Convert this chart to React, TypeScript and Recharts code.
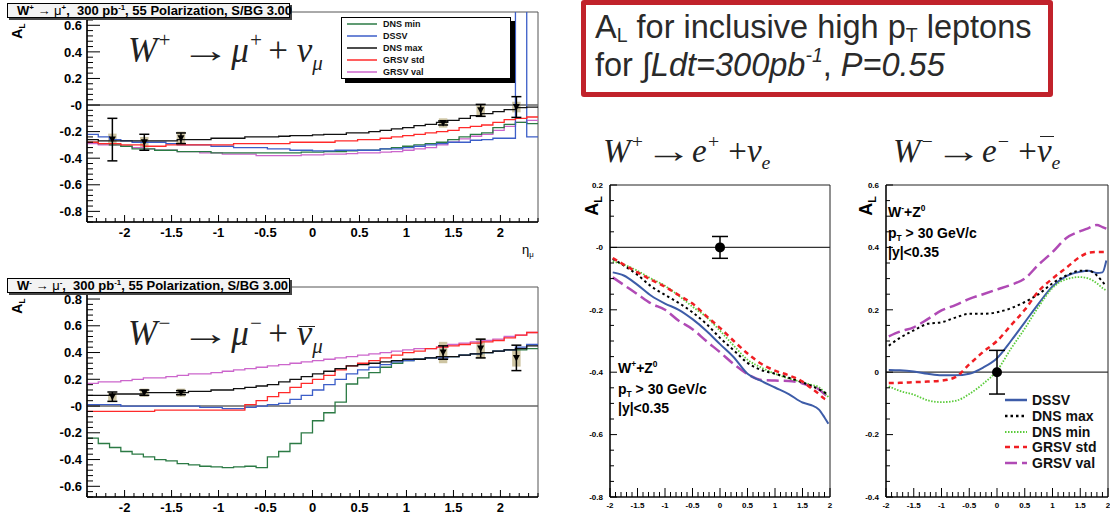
import React from 'react';
import { ComposedChart, Line, XAxis, YAxis, ReferenceLine, ReferenceArea, Scatter, ErrorBar } from 'recharts';

const SANS = '"Liberation Sans", Arial, Helvetica, sans-serif';
const SERIF = '"Liberation Serif", "Times New Roman", serif';

// ---------- muon histograms: eta bins (40 bins of 0.12) ----------
const etaEdges = [-2.4, -2.28, -2.16, -2.04, -1.92, -1.8, -1.68, -1.56, -1.44, -1.32, -1.2, -1.08, -0.96, -0.84, -0.72, -0.6, -0.48, -0.36, -0.24, -0.12, 0, 0.12, 0.24, 0.36, 0.48, 0.6, 0.72, 0.84, 0.96, 1.08, 1.2, 1.32, 1.44, 1.56, 1.68, 1.8, 1.92, 2.04, 2.16, 2.28, 2.4];

// W+ -> mu+
const wpDnsMin = [-0.28, -0.29, -0.30, -0.31, -0.33, -0.33, -0.34, -0.34, -0.35, -0.35, -0.35, -0.36, -0.36, -0.36, -0.36, -0.36, -0.36, -0.36, -0.36, -0.355, -0.355, -0.35, -0.35, -0.345, -0.34, -0.34, -0.33, -0.32, -0.31, -0.30, -0.29, -0.28, -0.26, -0.24, -0.22, -0.21, -0.17, -0.145, -0.13, -0.14];
const wpDssv = [-0.22, -0.24, -0.26, -0.27, -0.28, -0.28, -0.28, -0.29, -0.30, -0.30, -0.30, -0.31, -0.31, -0.32, -0.32, -0.32, -0.33, -0.33, -0.34, -0.34, -0.345, -0.345, -0.34, -0.34, -0.34, -0.34, -0.33, -0.33, -0.32, -0.31, -0.30, -0.29, -0.28, -0.28, -0.265, -0.26, -0.25, -0.25, 1.2, -0.24];
const wpDnsMax = [-0.26, -0.27, -0.27, -0.27, -0.27, -0.27, -0.27, -0.27, -0.26, -0.26, -0.26, -0.25, -0.25, -0.25, -0.24, -0.24, -0.24, -0.235, -0.23, -0.23, -0.225, -0.22, -0.22, -0.21, -0.21, -0.20, -0.19, -0.18, -0.17, -0.155, -0.145, -0.13, -0.115, -0.10, -0.08, -0.065, -0.05, -0.035, -0.02, -0.015];
const wpGrsvStd = [-0.28, -0.29, -0.29, -0.30, -0.30, -0.31, -0.31, -0.30, -0.30, -0.30, -0.30, -0.30, -0.30, -0.29, -0.29, -0.29, -0.29, -0.29, -0.28, -0.28, -0.28, -0.28, -0.27, -0.27, -0.26, -0.26, -0.25, -0.24, -0.23, -0.22, -0.21, -0.20, -0.19, -0.17, -0.16, -0.15, -0.13, -0.11, -0.10, -0.09];
const wpGrsvVal = [-0.29, -0.30, -0.30, -0.31, -0.32, -0.33, -0.34, -0.34, -0.35, -0.35, -0.36, -0.36, -0.37, -0.37, -0.37, -0.38, -0.38, -0.38, -0.38, -0.375, -0.375, -0.37, -0.37, -0.365, -0.36, -0.36, -0.355, -0.35, -0.34, -0.33, -0.32, -0.30, -0.28, -0.255, -0.235, -0.22, -0.19, -0.16, -0.13, -0.115];

// W- -> mu-
const wmDnsMin = [-0.24, -0.28, -0.31, -0.34, -0.36, -0.38, -0.40, -0.41, -0.43, -0.44, -0.45, -0.455, -0.46, -0.455, -0.45, -0.46, -0.38, -0.34, -0.28, -0.20, -0.11, -0.05, 0.03, 0.165, 0.21, 0.25, 0.29, 0.32, 0.34, 0.35, 0.36, 0.37, 0.37, 0.38, 0.39, 0.40, 0.41, 0.42, 0.42, 0.43];
const wmDssv = [0.01, 0.01, 0.01, 0.0, 0.0, 0.0, 0.0, 0.0, 0.0, 0.0, -0.01, -0.01, -0.02, -0.02, -0.01, 0.0, 0.01, 0.02, 0.05, 0.08, 0.12, 0.16, 0.20, 0.24, 0.27, 0.29, 0.31, 0.33, 0.34, 0.35, 0.36, 0.36, 0.37, 0.38, 0.39, 0.40, 0.41, 0.42, 0.44, 0.46];
const wmDnsMax = [0.08, 0.08, 0.09, 0.09, 0.09, 0.10, 0.10, 0.10, 0.10, 0.11, 0.11, 0.12, 0.12, 0.13, 0.14, 0.15, 0.16, 0.18, 0.20, 0.22, 0.24, 0.26, 0.28, 0.30, 0.31, 0.32, 0.33, 0.34, 0.35, 0.35, 0.36, 0.37, 0.37, 0.38, 0.39, 0.40, 0.41, 0.42, 0.43, 0.45];
const wmGrsvStd = [-0.04, -0.04, -0.04, -0.04, -0.04, -0.04, -0.03, -0.03, -0.03, -0.03, -0.03, -0.03, -0.03, -0.03, 0.01, 0.04, 0.07, 0.10, 0.14, 0.17, 0.20, 0.23, 0.27, 0.30, 0.32, 0.34, 0.36, 0.38, 0.40, 0.41, 0.43, 0.44, 0.45, 0.46, 0.47, 0.48, 0.49, 0.51, 0.53, 0.55];
const wmGrsvVal = [0.17, 0.18, 0.18, 0.19, 0.20, 0.21, 0.21, 0.22, 0.23, 0.24, 0.24, 0.25, 0.26, 0.27, 0.28, 0.29, 0.30, 0.31, 0.32, 0.33, 0.34, 0.35, 0.36, 0.37, 0.38, 0.39, 0.40, 0.41, 0.42, 0.43, 0.43, 0.44, 0.46, 0.47, 0.48, 0.49, 0.50, 0.52, 0.53, 0.55];

// projected data points (eta, A_L, stat error, sys box half height)
const muEta = [-2.13, -1.79, -1.40, 1.39, 1.79, 2.17];
const wpPtY = [-0.26, -0.28, -0.25, -0.135, -0.04, -0.015];
const wpPtErr = [0.16, 0.06, 0.04, 0.015, 0.045, 0.078];
const wpPtSys = [0.045, 0.04, 0.05, 0.035, 0.04, 0.04];
const wmPtY = [0.07, 0.10, 0.10, 0.40, 0.43, 0.36];
const wmPtErr = [0.035, 0.02, 0.015, 0.05, 0.07, 0.095];
const wmPtSys = [0.03, 0.03, 0.03, 0.08, 0.075, 0.065];

// ---------- electron curves (y) ----------
const yCurve = [-1.95, -1.75, -1.5, -1.25, -1, -0.75, -0.5, -0.25, 0, 0.25, 0.5, 0.75, 1, 1.25, 1.5, 1.65, 1.8, 1.9, 1.97];
const epDssv = [-0.08, -0.09, -0.12, -0.155, -0.18, -0.2, -0.23, -0.267, -0.31, -0.352, -0.405, -0.428, -0.449, -0.47, -0.497, -0.505, -0.52, -0.545, -0.565];
const epDnsMax = [-0.037, -0.058, -0.088, -0.125, -0.152, -0.178, -0.208, -0.245, -0.29, -0.33, -0.37, -0.393, -0.405, -0.418, -0.433, -0.443, -0.455, -0.465, -0.47];
const epDnsMin = [-0.045, -0.055, -0.075, -0.1, -0.123, -0.155, -0.19, -0.223, -0.267, -0.315, -0.36, -0.385, -0.405, -0.42, -0.432, -0.44, -0.448, -0.465, -0.48];
const epGrsvStd = [-0.034, -0.055, -0.08, -0.104, -0.126, -0.153, -0.18, -0.22, -0.258, -0.3, -0.34, -0.373, -0.395, -0.41, -0.43, -0.45, -0.47, -0.485, -0.49];
const epGrsvVal = [-0.096, -0.12, -0.15, -0.18, -0.2, -0.235, -0.262, -0.3, -0.336, -0.374, -0.406, -0.425, -0.427, -0.428, -0.436, -0.445, -0.455, -0.47, -0.48];

const emDssv = [0.007, 0.006, 0.002, -0.005, -0.01, -0.01, -0.005, 0.015, 0.045, 0.1, 0.16, 0.22, 0.275, 0.308, 0.322, 0.325, 0.318, 0.32, 0.358];
const emDnsMax = [0.085, 0.11, 0.134, 0.155, 0.16, 0.175, 0.187, 0.187, 0.192, 0.205, 0.225, 0.25, 0.285, 0.31, 0.325, 0.325, 0.31, 0.29, 0.275];
const emDnsMin = [-0.045, -0.06, -0.072, -0.09, -0.096, -0.092, -0.07, -0.037, 0.005, 0.075, 0.14, 0.21, 0.27, 0.298, 0.305, 0.3, 0.285, 0.27, 0.262];
const emGrsvStd = [-0.035, -0.034, -0.032, -0.03, -0.027, -0.016, 0.025, 0.065, 0.1, 0.15, 0.2, 0.26, 0.3, 0.335, 0.37, 0.383, 0.385, 0.385, 0.385];
const emGrsvVal = [0.115, 0.13, 0.144, 0.17, 0.198, 0.215, 0.235, 0.25, 0.265, 0.28, 0.3, 0.345, 0.385, 0.43, 0.452, 0.462, 0.472, 0.465, 0.46];

const epPoint = [{ x: 0, y: 0, err: 0.035 }];
const emPoint = [{ x: 0, y: 0, err: 0.07 }];

// ---------- ticks ----------
const etaTickMajor = [-2, -1.5, -1, -0.5, 0, 0.5, 1, 1.5, 2];
const wpTickMajor = [-0.8, -0.6, -0.4, -0.2, 0, 0.2, 0.4, 0.6];
const wmTickMajor = [-0.6, -0.4, -0.2, 0, 0.2, 0.4, 0.6, 0.8];
const rapTickMajor = [-2, -1.5, -1, -0.5, 0, 0.5, 1, 1.5, 2];
const epTickMajor = [-0.8, -0.6, -0.4, -0.2, 0, 0.2];
const emTickMajor = [-0.4, -0.2, 0, 0.2, 0.4, 0.6];

const legendNames = ['DNS min', 'DSSV', 'DNS max', 'GRSV std', 'GRSV val'];
const curveLegendNames = ['DSSV', 'DNS max', 'DNS min', 'GRSV std', 'GRSV val'];

const HC = { dnsMin: '#2b7a44', dssv: '#3c5ec8', dnsMax: '#111111', grsvStd: '#ff2a2a', grsvVal: '#cc66cc' };
const CC = { dssv: '#3d5ca8', dnsMax: '#000000', dnsMin: '#5acb3a', grsvStd: '#f01e23', grsvVal: '#b04ab5' };

function minorTicks(min: number, max: number, step: number) {
  const out: number[] = [];
  const a = Math.ceil(min / step - 1e-9);
  const b = Math.floor(max / step + 1e-9);
  for (let i = a; i <= b; i++) out.push(Math.round(i * step * 1e6) / 1e6);
  return out;
}
const isIn = (arr: number[], v: number) => arr.some((m) => Math.abs(m - v) < 1e-6);

function histData(a: number[], b: number[], c: number[], d: number[], e: number[]) {
  return etaEdges.map((x, i) => {
    const k = Math.min(i, a.length - 1);
    return { x, dnsMin: a[k], dssv: b[k], dnsMax: c[k], grsvStd: d[k], grsvVal: e[k] };
  });
}
function curveData(a: number[], b: number[], c: number[], d: number[], e: number[]) {
  return yCurve.map((x, i) => ({ x, dssv: a[i], dnsMax: b[i], dnsMin: c[i], grsvStd: d[i], grsvVal: e[i] }));
}
function pts(xs: number[], ys: number[], errs: number[], sys: number[]) {
  return xs.map((x, i) => ({ x, y: ys[i], err: errs[i], sys: sys[i] }));
}

const wpData = histData(wpDnsMin, wpDssv, wpDnsMax, wpGrsvStd, wpGrsvVal);
const wmData = histData(wmDnsMin, wmDssv, wmDnsMax, wmGrsvStd, wmGrsvVal);
const epData = curveData(epDssv, epDnsMax, epDnsMin, epGrsvStd, epGrsvVal);
const emData = curveData(emDssv, emDnsMax, emDnsMin, emGrsvStd, emGrsvVal);
const wpPts = pts(muEta, wpPtY, wpPtErr, wpPtSys);
const wmPts = pts(muEta, wmPtY, wmPtErr, wmPtSys);

const fmtY = (zeroLabel: string) => (v: number) => (Math.abs(v) < 1e-9 ? zeroLabel : String(v));
const fmtX = (v: number) => (Math.abs(v) < 1e-9 ? '0' : String(v));

function xTick(majors: number[], fmt: (v: number) => string, fs: number, majLen: number, minLen: number, dy: number) {
  return (props: any) => {
    const { x, y, payload } = props;
    const v = payload.value;
    const major = isIn(majors, v);
    return (
      <g>
        <line x1={x} x2={x} y1={y} y2={y - (major ? majLen : minLen)} stroke="#000" strokeWidth={1} />
        {major && (
          <text x={x} y={y + dy} textAnchor="middle" fontSize={fs} fontWeight="bold" fontFamily={SANS} fill="#000">
            {fmt(v)}
          </text>
        )}
      </g>
    );
  };
}
function yTick(majors: number[], fmt: (v: number) => string, fs: number, majLen: number, minLen: number, gap: number) {
  return (props: any) => {
    const { x, y, payload } = props;
    const v = payload.value;
    const major = isIn(majors, v);
    return (
      <g>
        <line x1={x} x2={x + (major ? majLen : minLen)} y1={y} y2={y} stroke="#000" strokeWidth={1} />
        {major && (
          <text x={x - gap} y={y} dy="0.36em" textAnchor="end" fontSize={fs} fontWeight="bold" fontFamily={SANS} fill="#000">
            {fmt(v)}
          </text>
        )}
      </g>
    );
  };
}

const L = 60, T = 4, R = 4, B = 30;
const P1 = { x: 87, y: 12, w: 451, h: 210 };
const P2 = { x: 87, y: 287, w: 451, h: 210 };
const P3 = { x: 610, y: 185, w: 220, h: 312 };
const P4 = { x: 886, y: 185, w: 222, h: 312 };

const triangle = (p: any) => (
  <path d={`M${p.cx - 3.5},${p.cy - 3} L${p.cx + 3.5},${p.cy - 3} L${p.cx},${p.cy + 3.5} Z`} fill="#000" />
);
const dotShape = (p: any) => <circle cx={p.cx} cy={p.cy} r={5} fill="#000" />;

function HistPanel({ rect, data, points, yDomain, yMajor }: any) {
  const xDomain = [-2.4, 2.4];
  return (
    <div style={{ position: 'absolute', left: rect.x - L, top: rect.y - T }}>
      <ComposedChart width={rect.w + L + R} height={rect.h + T + B} data={data} margin={{ top: T, right: R, bottom: 0, left: 0 }}>
        <XAxis type="number" dataKey="x" domain={xDomain} allowDataOverflow ticks={minorTicks(-2.4, 2.4, 0.1)} interval={0}
          tickSize={0} tickMargin={0} tickLine={false} axisLine={{ stroke: '#000', strokeWidth: 1.5 }} height={B}
          tick={xTick(etaTickMajor, fmtX, 13, 7, 4, 15)} />
        <YAxis type="number" domain={yDomain} allowDataOverflow ticks={minorTicks(yDomain[0], yDomain[1], 0.04)} interval={0}
          tickSize={0} tickMargin={0} tickLine={false} axisLine={{ stroke: '#000', strokeWidth: 1.5 }} width={L}
          tick={yTick(yMajor, fmtY('-0'), 13, 13, 6, 5)} />
        <ReferenceArea x1={xDomain[0]} x2={xDomain[1]} y1={yDomain[0]} y2={yDomain[1]} fill="none" stroke="#555" strokeWidth={1} ifOverflow="visible" />
        {points.map((p: any, i: number) => (
          <ReferenceArea key={i} x1={p.x - 0.045} x2={p.x + 0.045} y1={p.y - p.sys} y2={p.y + p.sys} fill="#cdc4a2" fillOpacity={1} stroke="none" />
        ))}
        <ReferenceLine y={0} stroke="#666" strokeWidth={1.5} />
        <Line type="stepAfter" dataKey="grsvVal" stroke={HC.grsvVal} strokeWidth={1.3} dot={false} isAnimationActive={false} />
        <Line type="stepAfter" dataKey="dnsMin" stroke={HC.dnsMin} strokeWidth={1.3} dot={false} isAnimationActive={false} />
        <Line type="stepAfter" dataKey="dssv" stroke={HC.dssv} strokeWidth={1.3} dot={false} isAnimationActive={false} />
        <Line type="stepAfter" dataKey="grsvStd" stroke={HC.grsvStd} strokeWidth={1.3} dot={false} isAnimationActive={false} />
        <Line type="stepAfter" dataKey="dnsMax" stroke={HC.dnsMax} strokeWidth={1.3} dot={false} isAnimationActive={false} />
        <Scatter data={points} dataKey="y" shape={triangle} isAnimationActive={false}>
          <ErrorBar dataKey="err" direction="y" width={5} stroke="#000" strokeWidth={1.5} />
        </Scatter>
      </ComposedChart>
    </div>
  );
}

function CurvePanel({ rect, data, point, yDomain, yMajor, zeroLabel }: any) {
  const xDomain = [-2, 2];
  return (
    <div style={{ position: 'absolute', left: rect.x - L, top: rect.y - T }}>
      <ComposedChart width={rect.w + L + R} height={rect.h + T + B} data={data} margin={{ top: T, right: R, bottom: 0, left: 0 }}>
        <XAxis type="number" dataKey="x" domain={xDomain} allowDataOverflow ticks={minorTicks(-2, 2, 0.1)} interval={0}
          tickSize={0} tickMargin={0} tickLine={false} axisLine={{ stroke: '#000', strokeWidth: 1.2 }} height={B}
          tick={xTick(rapTickMajor, fmtX, 8, 9, 5, 11)} />
        <YAxis type="number" domain={yDomain} allowDataOverflow ticks={minorTicks(yDomain[0], yDomain[1], 0.05)} interval={0}
          tickSize={0} tickMargin={0} tickLine={false} axisLine={{ stroke: '#000', strokeWidth: 1.2 }} width={L}
          tick={yTick(yMajor, fmtY(zeroLabel), 8, 7, 4, 7)} />
        <ReferenceArea x1={xDomain[0]} x2={xDomain[1]} y1={yDomain[0]} y2={yDomain[1]} fill="none" stroke="#222" strokeWidth={1} ifOverflow="visible" />
        <ReferenceLine y={0} stroke="#333" strokeWidth={1.2} />
        <Line type="monotone" dataKey="grsvVal" stroke={CC.grsvVal} strokeWidth={2.5} strokeDasharray="12 5" dot={false} isAnimationActive={false} />
        <Line type="monotone" dataKey="dssv" stroke={CC.dssv} strokeWidth={2} dot={false} isAnimationActive={false} />
        <Line type="monotone" dataKey="dnsMin" stroke={CC.dnsMin} strokeWidth={1.8} strokeDasharray="1.5 1.5" dot={false} isAnimationActive={false} />
        <Line type="monotone" dataKey="dnsMax" stroke={CC.dnsMax} strokeWidth={2} strokeDasharray="2.5 3" dot={false} isAnimationActive={false} />
        <Line type="monotone" dataKey="grsvStd" stroke={CC.grsvStd} strokeWidth={2.5} strokeDasharray="5 4" dot={false} isAnimationActive={false} />
        <Scatter data={point} dataKey="y" shape={dotShape} isAnimationActive={false}>
          <ErrorBar dataKey="err" direction="y" width={8} stroke="#000" strokeWidth={1.5} />
        </Scatter>
      </ComposedChart>
    </div>
  );
}

const Sup = ({ c, s = 0.6, up = 0.42 }: any) => (
  <span style={{ fontSize: `${s}em`, position: 'relative', top: `${-up / s}em` }}>{c}</span>
);
const Sub = ({ c, s = 0.6, down = 0.22 }: any) => (
  <span style={{ fontSize: `${s}em`, position: 'relative', top: `${down / s}em` }}>{c}</span>
);
const Bar = ({ c, top }: any) => (
  <span style={{ position: 'relative' }}>
    {c}
    <span style={{ position: 'absolute', left: '0.08em', width: '0.45em', top: `${top}em`, borderTop: '0.045em solid currentColor' }} />
  </span>
);
const Arrow = () => (
  <span style={{ display: 'inline-block', fontStyle: 'normal', transform: 'scaleX(1.42)', margin: '0 0.22em 0 0.24em' }}>→</span>
);

const abs = (left: number, top: number, extra: any = {}) => ({ position: 'absolute' as const, left, top, whiteSpace: 'pre' as const, ...extra });

function AL({ cx, cy, fs }: any) {
  return (
    <div style={abs(cx, cy, { transform: 'translate(-50%,-50%) rotate(-90deg)', font: `bold ${fs}px ${SANS}`, lineHeight: `${fs}px` })}>
      A<Sub c="L" />
    </div>
  );
}

function TitleBox({ top, sign }: any) {
  return (
    <div style={abs(7, top, { width: 283, height: 15, boxSizing: 'border-box', border: '1px solid #000', background: '#f3f3f3',
      boxShadow: '2px 2px 0 #444', font: `bold 13px ${SANS}`, lineHeight: '13px', paddingLeft: 9 })}>
      W<Sup c={sign} /> <span style={{ fontWeight: 'normal' }}>→ μ</span><Sup c={sign} />,  300 pb<Sup c="-1" />, 55 Polarization, S/BG 3.00
    </div>
  );
}

function LineSample({ color, dash, w, width }: any) {
  return (
    <svg width={w} height={6} style={{ display: 'block' }}>
      <line x1={0} x2={w} y1={3} y2={3} stroke={color} strokeWidth={width} strokeDasharray={dash} />
    </svg>
  );
}

export default function App() {
  const histColors = [HC.dnsMin, HC.dssv, HC.dnsMax, HC.grsvStd, HC.grsvVal];
  const curveStyles = [
    { c: CC.dssv, d: undefined, w: 2.5 },
    { c: CC.dnsMax, d: '2.5 3', w: 2.5 },
    { c: CC.dnsMin, d: '1.5 1.5', w: 2 },
    { c: CC.grsvStd, d: '5 4', w: 2.5 },
    { c: CC.grsvVal, d: '12 5', w: 2.5 },
  ];
  const serifDiv = (left: number, top: number, fs: number) => abs(left, top, { font: `italic ${fs}px ${SERIF}`, lineHeight: `${fs}px`, color: '#222' });
  const up = { fontStyle: 'normal' as const };
  return (
    <div style={{ position: 'absolute', left: 0, top: 0, width: 1110, height: 520, background: '#fff', overflow: 'hidden', fontFamily: SANS }}>
      <HistPanel rect={P1} data={wpData} points={wpPts} yDomain={[-0.88, 0.7]} yMajor={wpTickMajor} />
      <HistPanel rect={P2} data={wmData} points={wmPts} yDomain={[-0.68, 0.89]} yMajor={wmTickMajor} />
      <CurvePanel rect={P3} data={epData} point={epPoint} yDomain={[-0.8, 0.2]} yMajor={epTickMajor} zeroLabel="-0" />
      <CurvePanel rect={P4} data={emData} point={emPoint} yDomain={[-0.4, 0.6]} yMajor={emTickMajor} zeroLabel="0" />

      {/* ROOT style titles */}
      <TitleBox top={3} sign="+" />
      <TitleBox top={278} sign="-" />

      {/* legend of top-left histogram */}
      <div style={abs(341, 17, { width: 170, height: 62, boxSizing: 'border-box', border: '1px solid #000', background: '#fff', boxShadow: '4px 4px 0 #000' })}>
        {legendNames.map((n, i) => (
          <div key={n} style={{ position: 'absolute', left: 5, top: 0 + 12 * i, height: 12, display: 'flex', alignItems: 'center' }}>
            <LineSample color={histColors[i]} w={30} width={1.5} />
            <span style={{ marginLeft: 6, font: `bold 9px ${SANS}`, color: '#111' }}>{n}</span>
          </div>
        ))}
      </div>

      {/* axis titles */}
      <AL cx={18} cy={31} fs={14} />
      <AL cx={18} cy={306} fs={14} />
      <AL cx={593} cy={206} fs={18} />
      <AL cx={867} cy={206} fs={18} />
      <div style={abs(522, 243, { font: `13px ${SANS}`, lineHeight: '13px' })}>η<Sub c="μ" /></div>

      {/* process formulas */}
      <div style={serifDiv(128, 33, 35)}>
        W<Sup c="+" /> <Arrow />μ<Sup c="+" /><span style={{ ...up, marginLeft: '0.15em' }}>+</span> ν<Sub c="μ" />
      </div>
      <div style={serifDiv(128, 316, 35)}>
        W<Sup c="−" /> <Arrow />μ<Sup c="−" /><span style={{ ...up, marginLeft: '0.15em' }}>+</span> <Bar c="ν" top={0.33} /><Sub c="μ" />
      </div>
      <div style={serifDiv(603, 135, 33)}>
        W<Sup c="+" /><Arrow />e<Sup c="+" /> <span style={up}>+</span>ν<Sub c="e" />
      </div>
      <div style={serifDiv(893, 135, 33)}>
        W<Sup c="−" /><Arrow />e<Sup c="−" /> <span style={up}>+</span><Bar c="ν" top={0.1} /><Sub c="e" />
      </div>

      {/* headline box */}
      <div style={abs(581, 0, { width: 472, height: 97, boxSizing: 'border-box', border: '5px solid #c1222b', borderRadius: 3, background: '#fff', color: '#2a2a2a', font: `32.5px ${SANS}` })}>
        <div style={abs(9, 6, { lineHeight: '32px' })}>
          A<Sub c="L" s={0.6} down={0.12} /> for inclusive high p<Sub c="T" s={0.6} down={0.12} /> leptons
        </div>
        <div style={abs(9, 44, { lineHeight: '32px' })}>
          for ∫<i>Ldt=300pb<Sup c="-1" /></i>, <i>P=0.55</i>
        </div>
      </div>

      {/* electron panel annotations */}
      <div style={abs(618, 361, { font: `bold 14px ${SANS}`, lineHeight: '14px' })}>W<Sup c="+" />+Z<Sup c="0" /></div>
      <div style={abs(618, 382, { font: `bold 14px ${SANS}`, lineHeight: '14px' })}>p<Sub c="T" /> &gt; 30 GeV/c</div>
      <div style={abs(618, 401, { font: `bold 14px ${SANS}`, lineHeight: '14px' })}>|y|&lt;0.35</div>

      <div style={abs(888, 205, { font: `bold 14px ${SANS}`, lineHeight: '14px' })}>W<Sup c="-" />+Z<Sup c="0" /></div>
      <div style={abs(888, 226, { font: `bold 14px ${SANS}`, lineHeight: '14px' })}>p<Sub c="T" /> &gt; 30 GeV/c</div>
      <div style={abs(888, 245, { font: `bold 14px ${SANS}`, lineHeight: '14px' })}>|y|&lt;0.35</div>

      {/* electron legend */}
      {curveLegendNames.map((n, i) => (
        <div key={n} style={abs(1005, 392 + 15.8 * i, { height: 16, display: 'flex', alignItems: 'center' })}>
          <LineSample color={curveStyles[i].c} dash={curveStyles[i].d} w={22} width={curveStyles[i].w} />
          <span style={{ marginLeft: 5, font: `bold 14px ${SANS}`, color: '#111' }}>{n}</span>
        </div>
      ))}
    </div>
  );
}
